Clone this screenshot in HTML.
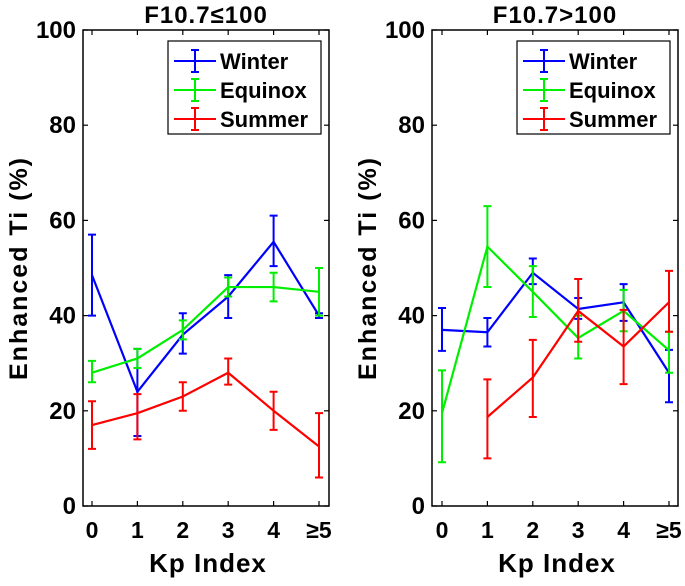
<!DOCTYPE html>
<html><head><meta charset="utf-8"><style>
body{margin:0;background:#fff}
svg text{font-family:"Liberation Sans",Arial,sans-serif;font-weight:bold;fill:#000}
</style></head><body>
<svg id="c" width="685" height="581" xmlns="http://www.w3.org/2000/svg"></svg>
<script>
const categories=["0","1","2","3","4","≥5"];
const yTicks=[0,20,40,60,80,100];
const seriesNames=["Winter","Equinox","Summer"];
const colors=["#0000ff","#00ee00","#ff0000"];
// left panel F10.7<=100
const leftWinter=[48.5,24,36,44,55.5,40];
const leftWinterLo=[40,14.7,32,39.5,50.4,39.5];
const leftWinterHi=[57,33,40.5,48.5,61,40.5];
const leftEquinox=[28,31,37,46,46,45];
const leftEquinoxLo=[26,29,35,44,43,40];
const leftEquinoxHi=[30.5,33,39,48,49,50];
const leftSummer=[17,19.5,23,28,20,12.5];
const leftSummerLo=[12,14,20,25.5,16,6];
const leftSummerHi=[22,23.5,26,31,24,19.5];
// right panel F10.7>100
const rightWinter=[37,36.5,49,41.4,42.8,28];
const rightWinterLo=[32.6,33.5,46.6,39.3,38.9,21.8];
const rightWinterHi=[41.6,39.5,52,43.7,46.6,32.8];
const rightEquinox=[19.5,54.5,45,35.3,41,32.7];
const rightEquinoxLo=[9.2,46,39.7,31,36.7,28];
const rightEquinoxHi=[28.5,63,50.4,40,45.4,36.6];
const rightSummer=[null,18.7,27,41,33.5,42.8];
const rightSummerLo=[null,10,18.7,34.5,25.6,36.6];
const rightSummerHi=[null,26.6,34.9,47.7,41.2,49.4];

const svg=document.getElementById('c');
const NS="http://www.w3.org/2000/svg";
function mk(tag,attrs,parent){const e=document.createElementNS(NS,tag);for(const k in attrs)e.setAttribute(k,attrs[k]);(parent||svg).appendChild(e);return e;}
const axTop=30,axBot=506;
function yS(v){return axBot-(v/100)*(axBot-axTop);}

function panel(id,left,right,x0,x5,title,data){
  const g=mk('g',{});
  
  
  const xS=i=>x0+i*(x5-x0)/(categories.length-1);
  const t=mk('text',{x:(left+right)/2,y:23,'text-anchor':'middle','font-size':24,'letter-spacing':1},g);
  t.textContent=title;
  
  
  const ax=mk('rect',{x:left,y:axTop,width:right-left,height:axBot-axTop,fill:'none',stroke:'#000','stroke-width':1.5},g);
  
  
  yTicks.forEach(v=>{
    mk('line',{x1:left,x2:left+5,y1:yS(v),y2:yS(v),stroke:'#000','stroke-width':1.2},g);
    mk('line',{x1:right,x2:right-5,y1:yS(v),y2:yS(v),stroke:'#000','stroke-width':1.2},g);
    const l=mk('text',{x:left-7,y:yS(v)+8,'text-anchor':'end','font-size':24,'letter-spacing':0},g);
    l.textContent=v;
    
    
  });
  categories.forEach((c,i)=>{
    mk('line',{x1:xS(i),x2:xS(i),y1:axBot,y2:axBot-5,stroke:'#000','stroke-width':1.2},g);
    mk('line',{x1:xS(i),x2:xS(i),y1:axTop,y2:axTop+5,stroke:'#000','stroke-width':1.2},g);
    const l=mk('text',{x:xS(i),y:538,'text-anchor':'middle','font-size':23},g);
    l.textContent=c;
    
    
  });
  const xl=mk('text',{x:(left+right)/2+2,y:572,'text-anchor':'middle','font-size':26,'letter-spacing':1},g);
  xl.textContent='Kp Index';
  
  
  const yl=mk('text',{x:0,y:0,'text-anchor':'middle','font-size':25,'letter-spacing':2,transform:`translate(${left-56},268) rotate(-90)`},g);
  yl.textContent='Enhanced Ti (%)';
  
  
  data.forEach((s,si)=>{
    const [vals,lo,hi]=s;
    const sg=mk('g',{},g);
    
    
    let pts=[];
    vals.forEach((v,i)=>{if(v!=null)pts.push(xS(i)+','+yS(v));});
    mk('polyline',{points:pts.join(' '),fill:'none',stroke:colors[si],'stroke-width':2.2},sg);
    vals.forEach((v,i)=>{
      if(v==null)return;
      const x=xS(i);
      const eb=mk('path',{d:`M${x},${yS(lo[i])}V${yS(hi[i])}M${x-4},${yS(lo[i])}H${x+4}M${x-4},${yS(hi[i])}H${x+4}`,stroke:colors[si],'stroke-width':2,fill:'none'},sg);
      
      
    });
  });
  const lx=left+85,lw=right-lx-8;
  const lg=mk('g',{},g);
  
  
  mk('rect',{x:lx,y:41,width:lw,height:93,fill:'#fff',stroke:'#000','stroke-width':1.2},lg);
  seriesNames.forEach((n,i)=>{
    const yy=61+i*29;
    const e=mk('g',{},lg);
    
    
    mk('path',{d:`M${lx+6},${yy}H${lx+48}M${lx+27},${yy-11}V${yy+11}M${lx+23},${yy-11}H${lx+31}M${lx+23},${yy+11}H${lx+31}`,stroke:colors[i],'stroke-width':2,fill:'none'},e);
    const tt=mk('text',{x:lx+52,y:yy+8,'font-size':22},e);
    tt.textContent=n;
  });
}
panel('left',83,329,92,319,'F10.7≤100',[[leftWinter,leftWinterLo,leftWinterHi],[leftEquinox,leftEquinoxLo,leftEquinoxHi],[leftSummer,leftSummerLo,leftSummerHi]]);
panel('right',432,678,442,669,'F10.7>100',[[rightWinter,rightWinterLo,rightWinterHi],[rightEquinox,rightEquinoxLo,rightEquinoxHi],[rightSummer,rightSummerLo,rightSummerHi]]);
</script>
</body></html>
